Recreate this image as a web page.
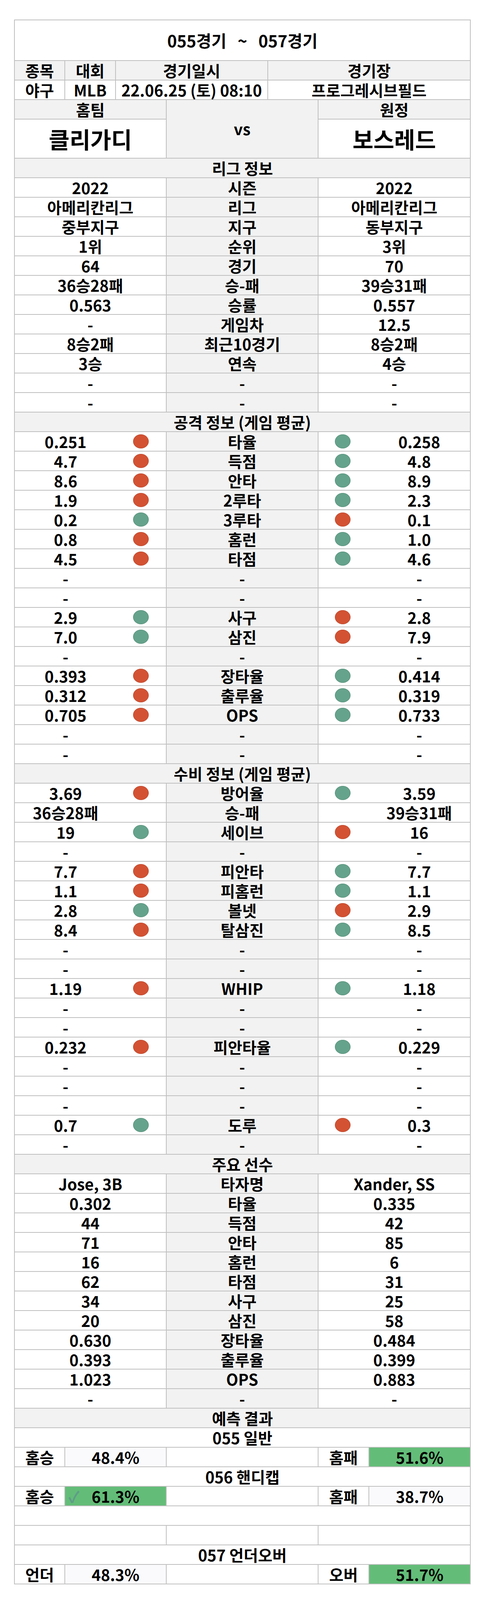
<!DOCTYPE html>
<html><head><meta charset="utf-8">
<script src="https://cdn.jsdelivr.net/npm/chart.js@4/dist/chart.umd.min.js"></script>
<style>
body{margin:0;background:#fff;font-family:"Noto Sans CJK KR","Noto Sans",sans-serif;}
#wrap{position:absolute;left:36px;top:50px;width:1168px;}
table{border-collapse:collapse;width:1168px;table-layout:fixed;}
td{border:2px solid #c0c0c0;text-align:center;height:48px;padding:0;font-size:40px;font-weight:bold;line-height:42px;color:#000;white-space:nowrap;position:relative;overflow:visible;}
.mid{background:#f2f2f2;}
.hd{background:#f2f2f2;}
.dot{position:absolute;top:50%;width:40px;height:36px;margin-top:-18px;border-radius:50%;}
.r{background:#d35233;border:1px solid #b8452a;box-sizing:border-box;}
.g{background:#66a38c;border:1px solid #4f8a74;box-sizing:border-box;}
.pv{background:#fafafc;}
.win{background:#63bd78;}
</style></head><body>
<div id="wrap"><table id="t"></table></div>
<script>
const title = '055경기 &nbsp; ~ &nbsp; 057경기';
const infoHead = ['종목','대회','경기일시','경기장'];
const infoVals = ['야구','MLB','22.06.25 (토) 08:10','프로그레시브필드'];
const teams = ['클리가디','보스레드'];
const leagueRows = [
  ['2022','시즌','2022'],['아메리칸리그','리그','아메리칸리그'],['중부지구','지구','동부지구'],
  ['1위','순위','3위'],['64','경기','70'],['36승28패','승-패','39승31패'],['0.563','승률','0.557'],
  ['-','게임차','12.5'],['8승2패','최근10경기','8승2패'],['3승','연속','4승'],['-','-','-'],['-','-','-']];
const attackRows = [
  ['0.251','r','타율','g','0.258'],['4.7','r','득점','g','4.8'],['8.6','r','안타','g','8.9'],
  ['1.9','r','2루타','g','2.3'],['0.2','g','3루타','r','0.1'],['0.8','r','홈런','g','1.0'],
  ['4.5','r','타점','g','4.6'],['-','','-','','-'],['-','','-','','-'],['2.9','g','사구','r','2.8'],
  ['7.0','g','삼진','r','7.9'],['-','','-','','-'],['0.393','r','장타율','g','0.414'],
  ['0.312','r','출루율','g','0.319'],['0.705','r','OPS','g','0.733'],['-','','-','','-'],['-','','-','','-']];
const defenseRows = [
  ['3.69','r','방어율','g','3.59'],['36승28패','','승-패','','39승31패'],['19','g','세이브','r','16'],
  ['-','','-','','-'],['7.7','r','피안타','g','7.7'],['1.1','r','피홈런','g','1.1'],['2.8','g','볼넷','r','2.9'],
  ['8.4','r','탈삼진','g','8.5'],['-','','-','','-'],['-','','-','','-'],['1.19','r','WHIP','g','1.18'],
  ['-','','-','','-'],['-','','-','','-'],['0.232','r','피안타율','g','0.229'],['-','','-','','-'],
  ['-','','-','','-'],['-','','-','','-'],['0.7','g','도루','r','0.3'],['-','','-','','-']];
const playerRows = [
  ['Jose, 3B','타자명','Xander, SS'],['0.302','타율','0.335'],['44','득점','42'],['71','안타','85'],
  ['16','홈런','6'],['62','타점','31'],['34','사구','25'],['20','삼진','58'],['0.630','장타율','0.484'],
  ['0.393','출루율','0.399'],['1.023','OPS','0.883'],['-','-','-']];
const predictions = [
  {name:'055 일반', l:'홈승', lv:'48.4%', r:'홈패', rv:'51.6%', win:'r', check:false},
  {name:'056 핸디캡', l:'홈승', lv:'61.3%', r:'홈패', rv:'38.7%', win:'l', check:true},
  {name:'057 언더오버', l:'언더', lv:'48.3%', r:'오버', rv:'51.7%', win:'r', check:false}];

const C = '<col style="width:129px"><col style="width:130px"><col style="width:130px"><col style="width:129px"><col style="width:131px"><col style="width:129px"><col style="width:130px"><col style="width:130px"><col style="width:130px">';
let h = C;
const row3 = (a,b,c)=>`<tr><td colspan="3">${a}</td><td colspan="3" class="mid">${b}</td><td colspan="3">${c}</td></tr>`;
const head = s=>`<tr><td colspan="9" class="hd">${s}</td></tr>`;
const val = (s,side)=>`<span style="position:absolute;${side}:0;width:260px;top:50%;transform:translateY(-50%)">${s}</span>`;
const dotRow = r=>`<tr><td colspan="3">${val(r[0],'left')}${r[1]?`<span class="dot ${r[1]}" style="left:303px"></span>`:''}</td><td colspan="3" class="mid">${r[2]}</td><td colspan="3">${r[3]?`<span class="dot ${r[3]}" style="left:42px"></span>`:''}${val(r[4],'right')}</td></tr>`;
h += `<tr><td colspan="9" style="height:102px;font-size:42px">${title}</td></tr>`;
h += `<tr><td class="hd">${infoHead[0]}</td><td class="hd">${infoHead[1]}</td><td colspan="3" class="hd">${infoHead[2]}</td><td colspan="4" class="hd">${infoHead[3]}</td></tr>`;
h += `<tr><td>${infoVals[0]}</td><td>${infoVals[1]}</td><td colspan="3">${infoVals[2]}</td><td colspan="4">${infoVals[3]}</td></tr>`;
h += `<tr><td colspan="3" class="hd">홈팀</td><td colspan="3" rowspan="2" class="mid" style="vertical-align:top;padding-top:52px">vs</td><td colspan="3" class="hd">원정</td></tr>`;
h += `<tr><td colspan="3" style="height:98px;font-size:58px">${teams[0]}</td><td colspan="3" style="font-size:58px">${teams[1]}</td></tr>`;
h += head('리그 정보');
leagueRows.forEach(r=>h+=row3(...r));
h += head('공격 정보 (게임 평균)');
attackRows.forEach(r=>h+=dotRow(r));
h += head('수비 정보 (게임 평균)');
defenseRows.forEach(r=>h+=dotRow(r));
h += head('주요 선수');
playerRows.forEach(r=>h+=row3(...r));
h += head('예측 결과');
const chk = '<span style="color:#5f9c88;font-size:40px;position:absolute;left:8px;top:50%;transform:translateY(-50%)">✓</span>';
predictions.forEach((p,i)=>{
  h += `<tr><td colspan="9">${p.name}</td></tr>`;
  h += `<tr><td>${p.l}</td><td colspan="2" class="${p.win=='l'?'win':'pv'}">${p.check?chk:''}${p.lv}</td><td colspan="3"></td><td>${p.r}</td><td colspan="2" class="${p.win=='r'?'win':'pv'}">${p.rv}</td></tr>`;
  if(i==1){h += '<tr><td colspan="9"></td></tr><tr><td colspan="3"></td><td colspan="3"></td><td colspan="3"></td></tr>';}
});
document.getElementById('t').innerHTML = h;
</script>
</body></html>
